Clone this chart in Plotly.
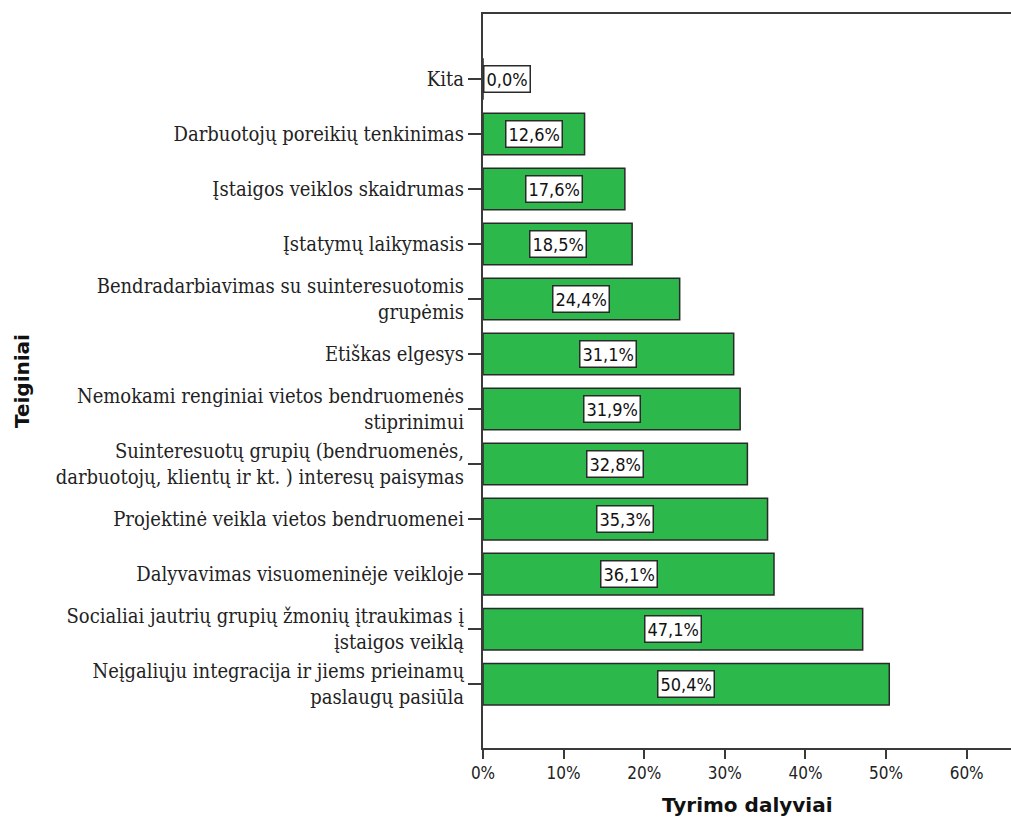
import plotly.graph_objects as go

# Statements, listed bottom to top, and the share of respondents for each
categories = [
    "Neįgaliųju integracija ir jiems prieinamų<br>paslaugų pasiūla",
    "Socialiai jautrių grupių žmonių įtraukimas į<br>įstaigos veiklą",
    "Dalyvavimas visuomeninėje veikloje",
    "Projektinė veikla vietos bendruomenei",
    "Suinteresuotų grupių (bendruomenės,<br>darbuotojų, klientų ir kt. ) interesų paisymas",
    "Nemokami renginiai vietos bendruomenės<br>stiprinimui",
    "Etiškas elgesys",
    "Bendradarbiavimas su suinteresuotomis<br>grupėmis",
    "Įstatymų laikymasis",
    "Įstaigos veiklos skaidrumas",
    "Darbuotojų poreikių tenkinimas",
    "Kita",
]
percentages = [50.4, 47.1, 36.1, 35.3, 32.8, 31.9, 31.1, 24.4, 18.5, 17.6, 12.6, 0.0]
x_tick_values = [0, 10, 20, 30, 40, 50, 60]
x_tick_labels = ["0%", "10%", "20%", "30%", "40%", "50%", "60%"]

AXIS_COLOR = "#3a3a3a"
BAR_COLOR = "#2db84b"
SERIF = "DejaVu Serif Condensed, DejaVu Serif"
SANS_COND = "DejaVu Sans Condensed, DejaVu Sans"
SANS = "DejaVu Sans"

fig = go.Figure(
    go.Bar(
        x=percentages,
        y=categories,
        orientation="h",
        width=0.755,
        marker=dict(color=BAR_COLOR, line=dict(color="#2a2a2a", width=1.5)),
        hoverinfo="skip",
    )
)

# Boxed value labels in the middle of each bar
for cat, val in zip(categories, percentages):
    label = f"{val:.1f}".replace(".", ",") + "%"
    if val > 0:
        pos, anchor = val / 2, "center"
    else:
        pos, anchor = 0, "left"
    fig.add_annotation(
        x=pos, y=cat, xref="x", yref="y",
        text=label, showarrow=False, xanchor=anchor,
        font=dict(family=SANS_COND, size=18, color="#111"),
        bgcolor="white", bordercolor="#2a2a2a", borderwidth=1.5, borderpad=2,
    )

# Axis titles
fig.add_annotation(
    x=0.5, y=-0.078, xref="paper", yref="paper", yanchor="middle",
    text="<b>Tyrimo dalyviai</b>", showarrow=False,
    font=dict(family=SANS, size=20, color="#111"),
)
fig.add_annotation(
    x=-0.873, y=0.5, xref="paper", yref="paper", xanchor="center",
    text="<b>Teiginiai</b>", showarrow=False, textangle=-90,
    font=dict(family=SANS, size=20, color="#111"),
)

fig.update_layout(
    width=1011, height=821,
    margin=dict(l=483, r=0, t=14, b=73),
    paper_bgcolor="white", plot_bgcolor="white",
    showlegend=False,
    bargap=0.25,
)
fig.update_xaxes(
    range=[0, 65.5],
    tickmode="array", tickvals=x_tick_values, ticktext=x_tick_labels,
    ticks="outside", ticklen=9, tickwidth=2, tickcolor=AXIS_COLOR,
    showline=True, linewidth=2, linecolor=AXIS_COLOR, mirror=True,
    showgrid=False, zeroline=False,
    tickfont=dict(family=SANS_COND, size=17, color="#222"),
)
fig.update_yaxes(
    type="category", categoryorder="array", categoryarray=categories,
    range=[-1.16, 12.18],
    ticks="outside", ticklen=13, tickwidth=2, tickcolor=AXIS_COLOR,
    showline=True, linewidth=2, linecolor=AXIS_COLOR,
    showgrid=False, zeroline=False,
    tickfont=dict(family=SERIF, size=20, color="#222"),
)

fig.write_html("out.html")
